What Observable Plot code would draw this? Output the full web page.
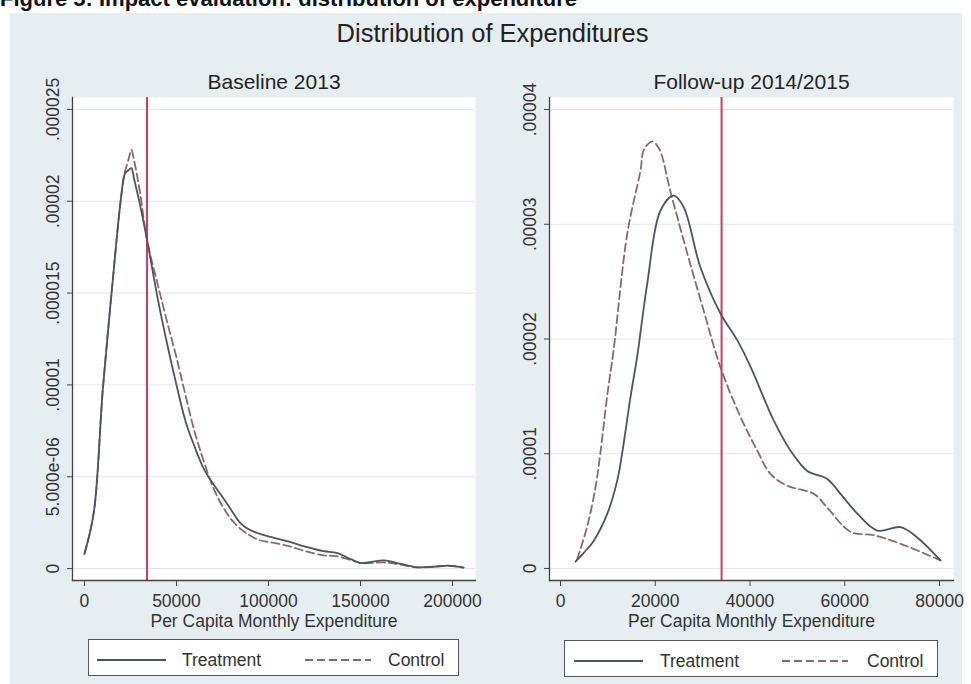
<!DOCTYPE html>
<html>
<head>
<meta charset="utf-8">
<script src="https://cdn.jsdelivr.net/npm/d3@7"></script>
<script src="https://cdn.jsdelivr.net/npm/@observablehq/plot@0.6"></script>
<style>
  body { margin: 0; background: #fff; }
  #root { position: relative; width: 971px; height: 684px; overflow: hidden;
          font-family: "Liberation Sans", Arial, Helvetica, sans-serif; }
  #bg { position: absolute; left: 10px; top: 13px; width: 952px; height: 671px; background: #e7eef1; }
  #caption { position: absolute; left: 0; top: -12px; font-size: 22px; font-weight: bold;
             line-height: 22px; white-space: nowrap; color: #111; }
  #title { position: absolute; left: 7px; width: 971px; top: 18px; text-align: center;
           font-size: 25.5px; line-height: 30px; color: #222; }
  .panel { position: absolute; top: 60px; }
  .panel svg { overflow: visible; }
  .legend { position: absolute; box-sizing: border-box; border: 1.5px solid #555; background: #fff; height: 37px; }
  .legend svg { position: absolute; top: 17.5px; }
  .lab { position: absolute; top: 9.5px; font-size: 17.5px; line-height: 20px; color: #333; white-space: nowrap; }
</style>
</head>
<body>
<div id="root">
  <div id="bg"></div>
  <div id="caption">Figure 5: Impact evaluation: distribution of expenditure</div>
  <div id="title">Distribution of Expenditures</div>
  <div class="panel" id="left" style="left:0px"></div>
  <div class="panel" id="right" style="left:480px"></div>
  <div class="legend" id="legL" style="left:88px; top:639px; width:371px;"></div>
  <div class="legend" id="legR" style="left:564px; top:640px; width:374px;"></div>
</div>
<script>
// ---- Data (density values are in units of 1e-6) ----
const SCALE = 1e-6;

const mainTitle = "Distribution of Expenditures";
const panelTitles = ["Baseline 2013", "Follow-up 2014/2015"];
const xLabel = "Per Capita Monthly Expenditure";
const seriesNames = ["Treatment", "Control"];
const povertyLine = 34000;

// Baseline 2013
const leftX = [0, 5000, 10000, 15000, 20000, 22000, 24000, 25500, 27000, 30000, 34000, 40000, 45000, 50000,
  55000, 60000, 65000, 70000, 75000, 80000, 85000, 90000, 95000, 100000, 110000, 120000, 130000, 137000,
  145000, 150000, 155000, 163000, 170000, 180000, 190000, 198000, 206000];
const leftTreatment = [0.8, 3.0, 9.8, 15.3, 20.3, 21.5, 21.7, 21.8, 21.2, 19.9, 17.9, 14.6, 12.2, 10.0,
  8.0, 6.6, 5.4, 4.6, 3.9, 3.15, 2.45, 2.1, 1.9, 1.75, 1.5, 1.2, 0.95, 0.85,
  0.5, 0.3, 0.35, 0.45, 0.3, 0.08, 0.1, 0.16, 0.05];
const leftControl = [0.8, 3.0, 9.8, 15.3, 20.3, 21.6, 22.3, 22.8, 22.2, 20.6, 17.9, 15.4, 13.4, 11.5,
  9.4, 7.4, 5.8, 4.4, 3.4, 2.65, 2.15, 1.8, 1.55, 1.45, 1.25, 0.95, 0.72, 0.68,
  0.45, 0.3, 0.3, 0.33, 0.25, 0.07, 0.1, 0.15, 0.05];

// Follow-up 2014/2015
const rightTreatX = [3170, 5000, 7000, 9900, 12000, 13000, 14800, 16200, 18300, 21100, 23900, 26000, 29500,
  33800, 37300, 40100, 45000, 48500, 52100, 56300, 59100, 62600, 66900, 71800, 75300, 80200];
const rightTreatment = [0.6, 1.4, 2.4, 4.8, 7.7, 10.0, 15.0, 18.5, 24.8, 31.2, 32.5, 31.5, 26.3,
  22.2, 19.9, 17.6, 12.9, 10.3, 8.5, 7.8, 6.5, 4.8, 3.3, 3.6, 2.7, 0.7];
const rightCtrlX = [3500, 5600, 7400, 8400, 9900, 11200, 14100, 16900, 17600, 19400, 20800, 23300, 26600,
  30200, 33800, 38000, 41500, 44300, 47900, 53500, 56300, 61200, 66100, 71800, 80200];
const rightControl = [0.8, 3.6, 7.1, 10.0, 15.2, 19.0, 29.2, 34.7, 36.5, 37.2, 36.6, 32.7, 27.7,
  22.5, 17.5, 13.2, 10.3, 8.25, 7.2, 6.5, 5.3, 3.2, 2.9, 2.15, 0.7];

// Ticks
const leftXTicks = [0, 50000, 100000, 150000, 200000];
const rightXTicks = [0, 20000, 40000, 60000, 80000];
const leftYTicks = [0, 5e-6, 1e-5, 1.5e-5, 2e-5, 2.5e-5];
const leftYLabels = ["0", "5.000e-06", ".00001", ".000015", ".00002", ".000025"];
const rightYTicks = [0, 1e-5, 2e-5, 3e-5, 4e-5];
const rightYLabels = ["0", ".00001", ".00002", ".00003", ".00004"];

// ---- Styles ----
const FONT = '"Liberation Sans", Arial, Helvetica, sans-serif';
const treatColor = "#4b5661";
const ctrlColor = "#8f666c";
const redColor = "#cf3a64";
const axisColor = "#444";
const dash = "8,4";

function rows(xs, ys, group) {
  return xs.map((x, i) => ({x, y: ys[i] * SCALE, group}));
}

function panel({title, treat, ctrl, xDomain, yDomain, xTicks, yTicks, yLabels, width, marginLeft, marginRight}) {
  return Plot.plot({
    width, height: 574,
    marginLeft, marginRight, marginTop: 37, marginBottom: 54,
    x: {domain: xDomain},
    y: {domain: yDomain},
    style: {fontFamily: FONT, fontSize: "17px", color: "#333", background: "transparent", overflow: "visible"},
    marks: [
      Plot.frame({fill: "white", stroke: "none"}),
      Plot.gridY(yTicks, {stroke: "#e3e6e8", strokeOpacity: 1, strokeWidth: 1}),
      Plot.ruleX([povertyLine], {stroke: redColor, strokeWidth: 2}),
      Plot.line(ctrl, {x: "x", y: "y", stroke: ctrlColor, strokeWidth: 1.8, strokeDasharray: dash, curve: "catmull-rom"}),
      Plot.line(treat, {x: "x", y: "y", stroke: treatColor, strokeWidth: 1.8, curve: "catmull-rom"}),
      Plot.frame({anchor: "left", stroke: axisColor, strokeWidth: 1.3}),
      Plot.frame({anchor: "bottom", stroke: axisColor, strokeWidth: 1.3}),
      Plot.axisY(yTicks, {tickSize: 5, tickFormat: () => "", stroke: axisColor, label: null}),
      Plot.text(yTicks, {y: d => d, frameAnchor: "left", dx: -19, rotate: -90, text: (d, i) => yLabels[i],
        textAnchor: "middle", lineAnchor: "middle", fill: "#333", fontSize: 17.5}),
      Plot.axisX(xTicks, {tickSize: 6, tickPadding: 8, tickFormat: d => String(d), label: null,
        fontSize: 17.5, fill: "#333", stroke: axisColor}),
      Plot.text([title], {frameAnchor: "top", dy: -15, lineAnchor: "middle", fontSize: 21, fill: "#222"}),
      Plot.text([xLabel], {frameAnchor: "bottom", dy: 41, lineAnchor: "middle", fontSize: 17.5, fill: "#333"})
    ]
  });
}

document.getElementById("title").textContent = mainTitle;

document.getElementById("left").appendChild(panel({
  title: panelTitles[0],
  treat: rows(leftX, leftTreatment, seriesNames[0]),
  ctrl: rows(leftX, leftControl, seriesNames[1]),
  xDomain: [-6500, 212500], yDomain: [-0.65e-6, 25.65e-6],
  xTicks: leftXTicks, yTicks: leftYTicks, yLabels: leftYLabels,
  width: 480, marginLeft: 72, marginRight: 5
}));

document.getElementById("right").appendChild(panel({
  title: panelTitles[1],
  treat: rows(rightTreatX, rightTreatment, seriesNames[0]),
  ctrl: rows(rightCtrlX, rightControl, seriesNames[1]),
  xDomain: [-2320, 82950], yDomain: [-1.05e-6, 41.05e-6],
  xTicks: rightXTicks, yTicks: rightYTicks, yLabels: rightYLabels,
  width: 491, marginLeft: 69, marginRight: 18
}));

// Legends (keys only; labels from seriesNames)
function legend(el, pos) {
  const k1 = `<svg style="left:${pos[0]}px" width="69" height="4"><line x1="0" x2="69" y1="2" y2="2" stroke="${treatColor}" stroke-width="1.8"/></svg>`;
  const l1 = `<span class="lab" style="left:${pos[1]}px">${seriesNames[0]}</span>`;
  const k2 = `<svg style="left:${pos[2]}px" width="66" height="4"><line x1="0" x2="66" y1="2" y2="2" stroke="${ctrlColor}" stroke-width="1.8" stroke-dasharray="${dash}"/></svg>`;
  const l2 = `<span class="lab" style="left:${pos[3]}px">${seriesNames[1]}</span>`;
  el.innerHTML = k1 + l1 + k2 + l2;
}
legend(document.getElementById("legL"), [8, 93, 216, 299]);
legend(document.getElementById("legR"), [9, 95, 217, 302]);
</script>
</body>
</html>
